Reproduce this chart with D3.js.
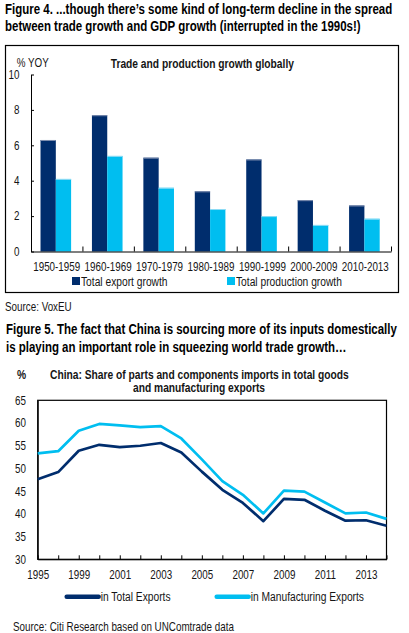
<!DOCTYPE html>
<html><head><meta charset="utf-8">
<script src="https://cdn.jsdelivr.net/npm/d3@7"></script>
<style>
html,body{margin:0;padding:0;background:#fff;}
svg{display:block;}
</style></head><body>
<svg id="c" width="409" height="633"></svg>
<script>
// ---------- data ----------
const decades = ["1950-1959","1960-1969","1970-1979","1980-1989","1990-1999","2000-2009","2010-2013"];
const exportGrowth = [6.3, 7.7, 5.3, 3.4, 5.2, 2.9, 2.6];
const productionGrowth = [4.1, 5.4, 3.6, 2.4, 2.0, 1.5, 1.85];
const barSeries = ["Total export growth", "Total production growth"];
const barYTicks = [0, 2, 4, 6, 8, 10];

const years = [1997,1998,1999,2000,2001,2002,2003,2004,2005,2006,2007,2008,2009,2010,2011,2012,2013,2014];
const totalExportsShare = [47.6,49.2,53.9,55.2,54.7,55.0,55.6,53.5,49.3,45.3,42.4,38.4,43.3,43.1,40.7,38.5,38.6,37.4];
const manufExportsShare = [53.3,53.8,58.3,59.8,59.5,59.1,59.3,56.6,52.0,47.2,44.2,40.1,45.1,44.9,42.5,40.1,40.3,38.9];
const lineSeries = ["in Total Exports", "in Manufacturing Exports"];
const lineYTicks = [30, 35, 40, 45, 50, 55, 60, 65];
const lineXTickYears = [1997, 1999, 2001, 2003, 2005, 2007, 2009, 2011, 2013];
const lineXTickLabels = ["1995", "1999", "2001", "2003", "2005", "2007", "2009", "2011", "2013"];

const NAVY = "#002D6D", CYAN = "#00BEF0", INK = "#151515";

// ---------- font handling (narrow sans) ----------
function narrowAvailable(){
  const ctx = document.createElement('canvas').getContext('2d');
  const s = '1950-1959 Total export growth';
  ctx.font = "40px 'Liberation Sans Narrow', monospace"; const a = ctx.measureText(s).width;
  ctx.font = "40px 'Liberation Sans', monospace"; const b = ctx.measureText(s).width;
  return a / b < 0.9;
}
const NARROW = narrowAvailable();
const SX = NARROW ? 1 : 0.82;
const FAM = NARROW ? "'Liberation Sans Narrow','Arial Narrow',sans-serif" : "'Liberation Sans',Arial,sans-serif";

const svg = d3.select('#c');

function label(sel, x, y, str, o = {}){
  const g = sel.append('g').attr('transform', `translate(${x},${y}) scale(${SX},1)`);
  return g.append('text')
    .attr('font-family', FAM).attr('font-size', o.size || 12)
    .attr('font-weight', o.weight || 'normal')
    .attr('text-anchor', o.anchor || 'start')
    .attr('fill', o.fill || INK).text(str);
}
function styleAxisText(g, size){
  g.attr('font-family', null).attr('font-size', null);
  g.selectAll('.tick text').each(function(){
    const t = d3.select(this);
    const x = +t.attr('x') || 0;
    t.attr('x', x / SX).attr('transform', `scale(${SX},1)`)
     .attr('font-family', FAM).attr('font-size', size).attr('fill', INK);
  });
  g.selectAll('line,path').attr('stroke', '#000');
}

// ---------- Figure 4 ----------
label(svg, 5, 13.5, "Figure 4. ...though there\u2019s some kind of long-term decline in the spread", {size: 14, weight: 'bold', fill: '#000'});
label(svg, 5, 30.5, "between trade growth and GDP growth (interrupted in the 1990s!)", {size: 14, weight: 'bold', fill: '#000'});

svg.append('rect').attr('x', 5.5).attr('y', 45.5).attr('width', 393).attr('height', 247)
  .attr('fill', 'none').attr('stroke', '#000').attr('stroke-width', 1.2);

label(svg, 16.7, 66.5, "% YOY", {size: 12});
label(svg, 110.7, 68, "Trade and production growth globally", {size: 12.5, weight: 'bold'});

const xB = d3.scaleBand().domain(decades).range([31, 391]);
const xSub = d3.scaleBand().domain(barSeries).range([xB.bandwidth() * 0.185, xB.bandwidth() * 0.78]);
const yB = d3.scaleLinear().domain([0, 10]).range([251.5, 74.5]);
const barColor = d3.scaleOrdinal().domain(barSeries).range([NAVY, CYAN]);
const barVals = [exportGrowth, productionGrowth];

const bars = svg.append('g');
barSeries.forEach((s, si) => {
  bars.selectAll(null).data(decades).join('rect')
    .attr('x', d => xB(d) + xSub(s))
    .attr('y', (d, i) => yB(barVals[si][i]))
    .attr('width', xSub.bandwidth())
    .attr('height', (d, i) => yB(0) - yB(barVals[si][i]))
    .attr('fill', barColor(s));
  // faint top highlight
  bars.selectAll(null).data(decades).join('line')
    .attr('x1', d => xB(d) + xSub(s)).attr('x2', d => xB(d) + xSub(s) + xSub.bandwidth())
    .attr('y1', (d, i) => yB(barVals[si][i]) + 0.5).attr('y2', (d, i) => yB(barVals[si][i]) + 0.5)
    .attr('stroke', si === 0 ? '#7f8fb0' : '#8fdcf5').attr('stroke-width', 1);
});

// category boundaries axis (ticks pointing up)
const xEdge = d3.scaleLinear().domain([0, decades.length]).range(xB.range());
const gEdge = svg.append('g').attr('transform', `translate(0,${yB(0)})`)
  .call(d3.axisBottom(xEdge).tickValues(d3.range(0, decades.length + 1)).tickSizeInner(-5).tickSizeOuter(0).tickFormat(''));
styleAxisText(gEdge, 12);
// category labels
const gCat = svg.append('g').attr('transform', `translate(0,${yB(0)})`)
  .call(d3.axisBottom(xB).tickSize(0).tickPadding(11));
gCat.select('.domain').remove();
styleAxisText(gCat, 12);
// y axis
const gYB = svg.append('g').attr('transform', `translate(31,0)`)
  .call(d3.axisLeft(yB).tickValues(barYTicks).tickSizeInner(-3).tickSizeOuter(0).tickPadding(11.5));
styleAxisText(gYB, 12);

// legend
const barLegX = [72, 227];
barSeries.forEach((s, i) => {
  svg.append('rect').attr('x', barLegX[i]).attr('y', 277).attr('width', 8).attr('height', 8).attr('fill', barColor(s));
  label(svg, barLegX[i] + 9, 285.5, s, {size: 12.5});
});

label(svg, 5, 311, "Source: VoxEU", {size: 12});

// ---------- Figure 5 ----------
label(svg, 6, 334, "Figure 5. The fact that China is sourcing more of its inputs domestically", {size: 14, weight: 'bold', fill: '#000'});
label(svg, 6, 351.5, "is playing an important role in squeezing world trade growth\u2026", {size: 14, weight: 'bold', fill: '#000'});

label(svg, 17, 378.5, "%", {size: 12.5, weight: 'bold'});
label(svg, 50, 378.5, "China: Share of parts and components imports in total goods", {size: 12.5, weight: 'bold'});
label(svg, 199, 391.5, "and manufacturing exports", {size: 12.5, weight: 'bold', anchor: 'middle'});

const xL = d3.scaleLinear().domain([years[0], years[years.length - 1]]).range([37.7, 386.5]);
const yL = d3.scaleLinear().domain([30, 65]).range([559.3, 400.3]);

svg.append('rect').attr('x', xL.range()[0]).attr('y', yL.range()[1])
  .attr('width', xL.range()[1] - xL.range()[0]).attr('height', yL.range()[0] - yL.range()[1])
  .attr('fill', 'none').attr('stroke', '#000').attr('stroke-width', 1.2);

const gXL = svg.append('g').attr('transform', `translate(0,${yL(30)})`)
  .call(d3.axisBottom(xL).tickValues(years).tickSizeInner(-4).tickSizeOuter(0).tickPadding(10.7)
    .tickFormat(d => { const i = lineXTickYears.indexOf(d); return i >= 0 ? lineXTickLabels[i] : ''; }));
styleAxisText(gXL, 12);
const gYL = svg.append('g').attr('transform', `translate(${xL.range()[0]},0)`)
  .call(d3.axisLeft(yL).tickValues(lineYTicks).tickSize(0).tickPadding(11.7));
styleAxisText(gYL, 12);

const lineColor = d3.scaleOrdinal().domain(lineSeries).range([NAVY, CYAN]);
const lineVals = [totalExportsShare, manufExportsShare];
const lineGen = d3.line().x((d, i) => xL(years[i])).y(d => yL(d));
lineSeries.forEach((s, i) => {
  svg.append('path').attr('d', lineGen(lineVals[i])).attr('fill', 'none')
    .attr('stroke', lineColor(s)).attr('stroke-width', 2.7).attr('stroke-linejoin', 'round');
});

// legend
const lineLegX = [66.7, 216.7];
lineSeries.forEach((s, i) => {
  svg.append('line').attr('x1', lineLegX[i]).attr('x2', lineLegX[i] + 32).attr('y1', 596.7).attr('y2', 596.7)
    .attr('stroke', lineColor(s)).attr('stroke-width', 4.5).attr('stroke-linecap', 'round');
  label(svg, lineLegX[i] + 34, 600.8, s, {size: 12.5});
});

label(svg, 13, 631, "Source: Citi Research based on UNComtrade data", {size: 12});
</script>
</body></html>
